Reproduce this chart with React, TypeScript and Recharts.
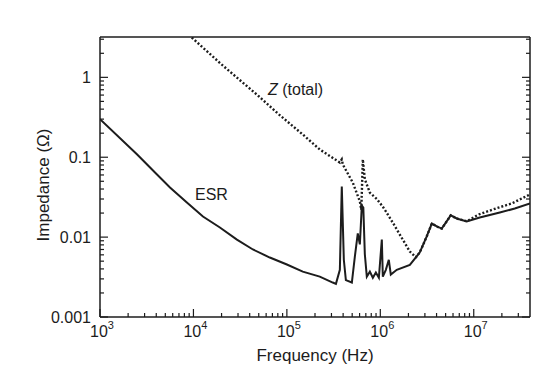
import React from 'react';
import { LineChart, Line, XAxis, YAxis, ReferenceLine } from 'recharts';

// ESR curve (solid)
const esrFreq = [
  1000, 2500, 4000, 5610, 8510, 12640, 19200, 29200, 43300, 65700, 100000, 148000,
  225000, 310000, 335000, 369000, 387000, 407000, 428000, 496000, 534000, 574000, 604000,
  634000, 658000, 683000, 717000, 773000, 832000, 896000, 965000, 1038000, 1064000,
  1146000, 1233000, 1295000, 1500000, 2070000, 2640000, 3140000, 3560000, 4020000,
  4550000, 5670000, 6580000, 8410000, 11600000, 19000000, 27500000, 40000000,
];
const esrValue = [
  0.3, 0.108, 0.062, 0.0418, 0.0271, 0.0181, 0.0132, 0.0093, 0.007, 0.00555, 0.00454, 0.0037,
  0.0032, 0.0027, 0.0026, 0.0039, 0.043, 0.0052, 0.0029, 0.0027, 0.0057, 0.0111, 0.0081,
  0.0249, 0.0235, 0.0061, 0.0032, 0.0037, 0.0031, 0.0036, 0.0031, 0.0093, 0.0032,
  0.0039, 0.0052, 0.0034, 0.0039, 0.0045, 0.0064, 0.0102, 0.0148, 0.0136,
  0.0128, 0.0187, 0.0171, 0.0157, 0.0176, 0.0203, 0.0228, 0.0264,
];

// total impedance Z (dotted)
const zFreq = [
  9600, 20000, 50000, 82000, 150000, 225000, 369000, 387000, 397000, 508000, 604000,
  626000, 650000, 683000, 773000, 918000, 1064000, 1146000, 1360000, 1740000, 2070000,
  2400000, 2640000, 3140000, 3560000, 4020000, 4550000, 5670000, 6580000, 8410000,
  11300000, 17200000, 25500000, 40000000,
];
const zValue = [
  3.15, 1.45, 0.58, 0.344, 0.19, 0.125, 0.086, 0.094, 0.081, 0.048, 0.028,
  0.022, 0.094, 0.053, 0.036, 0.03, 0.024, 0.021, 0.0152, 0.0093, 0.0066,
  0.0056, 0.0064, 0.0102, 0.0148, 0.0136, 0.0128, 0.0187, 0.0171, 0.0158,
  0.0192, 0.0228, 0.0264, 0.0342,
];

const xDecades = [1e3, 1e4, 1e5, 1e6, 1e7];
const xExponents = ['3', '4', '5', '6', '7'];
const yDecades = [0.001, 0.01, 0.1, 1];
const yLabels = ['0.001', '0.01', '0.1', '1'];
const minorSteps = [2, 3, 4, 5, 6, 7, 8, 9];

const X_MIN = 1e3;
const X_MAX = 4e7;
const Y_MIN = 0.001;
const Y_MAX = 3.2;

const INK = '#1c1c1c';
const FONT = '"Liberation Sans", Arial, Helvetica, sans-serif';

const esrData = esrFreq.map((f, i) => ({ f, v: esrValue[i] }));
const zData = zFreq.map((f, i) => ({ f, v: zValue[i] }));

const withMinors = (decades: number[], max: number) =>
  [...decades, ...decades.flatMap((d) => minorSteps.map((m) => d * m))]
    .filter((v) => v < max)
    .sort((a, b) => a - b);

const xTicks = withMinors(xDecades, X_MAX);
const yTicks = withMinors(yDecades, Y_MAX);

const XTick = (props: any) => {
  const { x, y, payload } = props;
  const i = xDecades.indexOf(payload.value);
  const major = i >= 0;
  return (
    <g>
      <line x1={x} y1={y} x2={x} y2={y - (major ? 8 : 4)} stroke={INK} strokeWidth={1.2} />
      {major && (
        <text x={x + 2} y={y + 20} textAnchor="middle" fontSize={16} fill={INK} fontFamily={FONT}>
          10<tspan dy={-8} fontSize={11}>{xExponents[i]}</tspan>
        </text>
      )}
    </g>
  );
};

const YTickLeft = (props: any) => {
  const { x, y, payload } = props;
  const i = yDecades.indexOf(payload.value);
  const major = i >= 0;
  return (
    <g>
      <line x1={x} y1={y} x2={x + (major ? 8 : 4)} y2={y} stroke={INK} strokeWidth={1.2} />
      {major && (
        <text x={x - 9} y={y + 6} textAnchor="end" fontSize={16} fill={INK} fontFamily={FONT}>
          {yLabels[i]}
        </text>
      )}
    </g>
  );
};

const YTickRight = (props: any) => {
  const { x, y, payload } = props;
  const major = yDecades.indexOf(payload.value) >= 0;
  return <line x1={x} y1={y} x2={x - (major ? 8 : 4)} y2={y} stroke={INK} strokeWidth={1.2} />;
};

export default function App() {
  return (
    <div style={{ position: 'absolute', left: 0, top: 0, width: 558, height: 384, background: '#fff' }}>
      <LineChart width={558} height={384} margin={{ top: 37, right: 0, bottom: 0, left: 0 }}>
        <XAxis
          dataKey="f"
          type="number"
          scale="log"
          domain={[X_MIN, X_MAX]}
          allowDataOverflow
          ticks={xTicks}
          interval={0}
          tickSize={0}
          tickMargin={0}
          tickLine={false}
          tick={XTick}
          height={67}
          axisLine={{ stroke: INK, strokeWidth: 1.5 }}
        />
        <YAxis
          yAxisId="l"
          dataKey="v"
          type="number"
          scale="log"
          domain={[Y_MIN, Y_MAX]}
          allowDataOverflow
          ticks={yTicks}
          interval={0}
          tickSize={0}
          tickMargin={0}
          tickLine={false}
          tick={YTickLeft}
          width={100}
          axisLine={{ stroke: INK, strokeWidth: 1.5 }}
        />
        <YAxis
          yAxisId="r"
          orientation="right"
          type="number"
          scale="log"
          domain={[Y_MIN, Y_MAX]}
          allowDataOverflow
          ticks={yTicks}
          interval={0}
          tickSize={0}
          tickMargin={0}
          tickLine={false}
          tick={YTickRight}
          width={28}
          axisLine={{ stroke: INK, strokeWidth: 1.5 }}
        />
        <ReferenceLine yAxisId="l" y={Y_MAX} stroke={INK} strokeWidth={1.5} />
        <Line
          yAxisId="l"
          data={zData}
          dataKey="v"
          type="linear"
          stroke={INK}
          strokeWidth={2.4}
          strokeDasharray="2 2"
          dot={false}
          isAnimationActive={false}
        />
        <Line
          yAxisId="l"
          data={esrData}
          dataKey="v"
          type="linear"
          stroke={INK}
          strokeWidth={2}
          dot={false}
          isAnimationActive={false}
        />
        <text x={315} y={361} textAnchor="middle" fontSize={17} fill={INK} fontFamily={FONT}>
          Frequency (Hz)
        </text>
        <text transform="translate(49,185) rotate(-90)" textAnchor="middle" fontSize={17} fill={INK} fontFamily={FONT}>
          Impedance (Ω)
        </text>
        <text x={268} y={95} fontSize={16} fill={INK} fontFamily={FONT}>
          <tspan fontStyle="italic">Z</tspan> (total)
        </text>
        <text x={195} y={200} fontSize={16} fill={INK} fontFamily={FONT}>
          ESR
        </text>
      </LineChart>
    </div>
  );
}
